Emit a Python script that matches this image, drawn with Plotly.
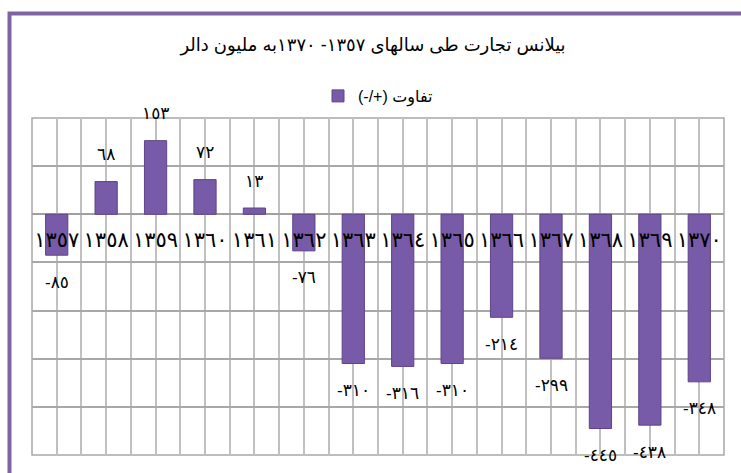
import plotly.graph_objects as go

# ---- data ----
years = [1357, 1358, 1359, 1360, 1361, 1362, 1363, 1364, 1365, 1366, 1367, 1368, 1369, 1370]
balance = [-85, 68, 153, 72, 13, -76, -310, -316, -310, -214, -299, -445, -438, -348]
series_name = "(-/+) تفاوت"
title_text = "بیلانس تجارت طی سالهای ١٣٥٧- ١٣٧٠به ملیون دالر"

AR = str.maketrans("0123456789", "٠١٢٣٤٥٦٧٨٩")

def ar(n):
    s = str(abs(n)).translate(AR)
    return ("-" + s) if n < 0 else s

W, H = 741, 473
L, R, T, B = 32, 17, 118, 18
pw, ph = W - L - R, H - T - B

def px_x(x):
    return (x - L) / pw

def px_y(y):
    return (H - B - y) / ph

FONT = "Arial, DejaVu Sans, sans-serif"
xs = list(range(len(years)))

fig = go.Figure()
fig.add_trace(go.Bar(
    x=xs, y=balance, width=0.45, name=series_name,
    marker=dict(color="#785BA8", line=dict(color="#5E4488", width=1)),
    showlegend=True,
))

for i, v in enumerate(balance):
    fig.add_annotation(x=i, y=v, text=ar(v), showarrow=False,
                       yshift=27 if v > 0 else -27,
                       font=dict(family=FONT, size=17, color="#000000"))

fig.update_layout(
    width=W, height=H,
    margin=dict(l=L, r=R, t=T, b=B, autoexpand=False),
    paper_bgcolor="white", plot_bgcolor="white",
    title=dict(text=title_text, x=373 / W, xref="container", xanchor="center",
               y=1 - 45 / H, yref="container", yanchor="middle",
               font=dict(family=FONT, size=18, color="#000000")),
    showlegend=True,
    legend=dict(orientation="h", x=px_x(318), y=px_y(96), xanchor="left", yanchor="middle",
                font=dict(family=FONT, size=16, color="#000000"), bgcolor="rgba(0,0,0,0)"),
    bargap=0.55,
)

fig.update_xaxes(
    range=[-0.5, len(years) - 0.5], automargin=False,
    tickmode="array", tickvals=xs, ticktext=[ar(y) for y in years],
    tickfont=dict(family=FONT, size=21, color="#000000"),
    ticks="", showline=False, zeroline=False,
    anchor="free", position=500 / 700,
    showgrid=True, gridcolor="#C0C0C0", gridwidth=1.5,
    minor=dict(showgrid=True, tick0=0.5, dtick=1, gridcolor="#C0C0C0", gridwidth=1.5),
    ticklabelstandoff=11,
)
fig.update_yaxes(
    range=[-500, 200], dtick=100, showticklabels=False, automargin=False,
    showgrid=True, gridcolor="#A8A8A8", gridwidth=1.5,
    zeroline=True, zerolinecolor="#A0A0A0", zerolinewidth=1.5,
)

# plot border
fig.add_shape(type="rect", xref="paper", yref="paper", x0=0, x1=1, y0=0, y1=1,
              line=dict(color="#A8A8A8", width=1.5), layer="below")
# outer purple frame
fig.add_shape(type="rect", xref="paper", yref="paper",
              x0=px_x(9.5), x1=px_x(790), y0=px_y(13.5), y1=px_y(520),
              line=dict(color="#8064A2", width=4))

fig.write_html("out.html", config={"displayModeBar": False},
               post_script="document.body.style.margin='0';document.body.style.overflow='hidden';")
